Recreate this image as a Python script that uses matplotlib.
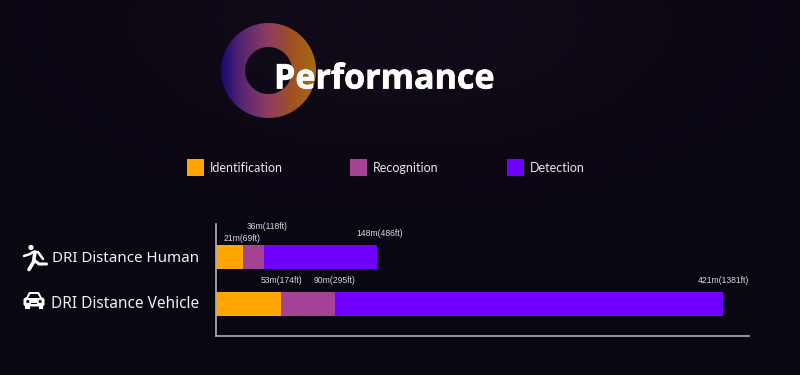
import numpy as np
import matplotlib
matplotlib.use("Agg")
import matplotlib.pyplot as plt
import matplotlib.patheffects as pe
from matplotlib.patches import Circle, Polygon, FancyBboxPatch, PathPatch, Rectangle
from matplotlib.path import Path

categories = ["DRI Distance Human", "DRI Distance Vehicle"]
# bars are not to scale in the original, so these are the drawn lengths
identification = [27, 65]
recognition = [48, 119]
detection = [161, 507]
id_labels = ["21m(69ft)", "53m(174ft)"]
rec_labels = ["36m(118ft)", "90m(295ft)"]
det_labels = ["148m(486ft)", "421m(1381ft)"]
legend_names = ["Identification", "Recognition", "Detection"]
colors = ["#ffa500", "#a64294", "#6f00ff"]

W, H = 800, 375
fig = plt.figure(figsize=(8, 3.75), dpi=100)

# background, whole figure in pixel coordinates
bg = fig.add_axes([0, 0, 1, 1])
bg.axis("off")
edge = np.array([0x0a, 0x06, 0x12])
glow = np.array([0x14, 0x0b, 0x19])
gx, gy = np.meshgrid(np.linspace(0, W, 200), np.linspace(0, H, 100))
dist = np.clip(np.hypot((gx - 400) / 450, (gy - 20) / 210), 0, 1)[:, :, None]
bg.imshow((glow * (1 - dist) + edge * dist).astype(np.uint8), extent=[0, W, H, 0],
          aspect="auto", interpolation="bilinear")

# ring with gradient
cx, cy, r_out, r_in = 268.5, 70.5, 47.5, 23.5
stops = np.array([[0x1a, 0x0a, 0x70], [0x5e, 0x2a, 0x72], [0x8e, 0x3c, 0x62],
                  [0xa0, 0x52, 0x22], [0xa8, 0x6c, 0x10]])
xs = np.linspace(0, 1, 256)
ring_img = np.stack([np.interp(xs, np.linspace(0, 1, 5), stops[:, i]) for i in range(3)], axis=1)
ring_img = ring_img[None, :, :].astype(np.uint8)
im = bg.imshow(ring_img, extent=[cx - r_out, cx + r_out, cy + r_out, cy - r_out],
               aspect="auto", interpolation="bilinear")
t = np.linspace(0, 2 * np.pi, 200)
verts = np.concatenate([
    np.c_[cx + r_out * np.cos(t), cy + r_out * np.sin(t)],
    np.c_[cx + r_in * np.cos(t[::-1]), cy + r_in * np.sin(t[::-1])],
])
codes = [Path.MOVETO] + [Path.LINETO] * 199 + [Path.MOVETO] + [Path.LINETO] * 199
ring = PathPatch(Path(verts, codes), transform=bg.transData, fc="none", ec="none")
bg.add_patch(ring)
im.set_clip_path(ring)
bg.set_xlim(0, W)
bg.set_ylim(H, 0)

bg.text(274, 79.5, "Performance", color="white", fontsize=24.5, fontweight="bold",
        family="Open Sans", va="center", ha="left",
        path_effects=[pe.withStroke(linewidth=0.5, foreground="white")])

# legend
for x, name, c in zip([187, 350, 507], legend_names, colors):
    bg.add_patch(Rectangle((x, 158.5), 17, 17, fc=c, ec="none"))
    bg.text(x + 23, 167.5, name, color="#e6e6e6", fontsize=9, family="Lato",
            va="center", ha="left")

# category names
bg.text(52, 258.5, categories[0], color="#f2f2f2", fontsize=10.85, family="Noto Sans",
        va="center", ha="left")
bg.text(51, 304, categories[1], color="#f2f2f2", fontsize=11.1, family="Noto Sans",
        va="center", ha="left")

# running man icon
bg.add_patch(Circle((31, 247.5), 2.6, fc="white", ec="none"))
for pts, lw in [([(24, 256), (30, 254), (33, 252), (38, 252), (43, 259)], 1.8),
                ([(35, 252), (33.5, 262), (29, 269.5)], 2.6),
                ([(34, 260), (39, 264), (46.5, 264)], 2.2)]:
    arr = np.array(pts)
    bg.plot(arr[:, 0], arr[:, 1], color="white", lw=lw, solid_capstyle="round",
            solid_joinstyle="round")

# car icon
dark = "#0a0612"
bg.add_patch(FancyBboxPatch((23.5, 297.5), 21, 9, boxstyle="round,pad=0,rounding_size=2.5",
                            fc="white", ec="none"))
bg.add_patch(Polygon([(25.5, 299), (29, 292), (39, 292), (42.5, 299)], closed=True,
                     fc="white", ec="none"))
bg.add_patch(Polygon([(28, 298), (30.5, 294), (37.5, 294), (40, 298)], closed=True,
                     fc=dark, ec="none"))
bg.add_patch(Rectangle((25, 305), 4.5, 4, fc="white", ec="none"))
bg.add_patch(Rectangle((38.5, 305), 4.5, 4, fc="white", ec="none"))
bg.add_patch(Circle((27.8, 301.5), 1.6, fc=dark, ec="none"))
bg.add_patch(Circle((40.2, 301.5), 1.6, fc=dark, ec="none"))
bg.add_patch(Rectangle((31, 302.5), 6, 1.3, fc=dark, ec="none"))
bg.set_xlim(0, W)
bg.set_ylim(H, 0)

# the chart itself
ax = fig.add_axes([216 / W, 1 - 336 / H, (749 - 216) / W, (336 - 224) / H])
ax.patch.set_alpha(0)
y = np.arange(len(categories))
ident = np.array(identification)
rec = np.array(recognition)
det = np.array(detection)
ax.barh(y, ident, height=24 / 47, color=colors[0])
ax.barh(y, rec - ident, left=ident, height=24 / 47, color=colors[1])
ax.barh(y, det - rec, left=rec, height=24 / 47, color=colors[2])
ax.set_xlim(0, 533)
ax.set_ylim(1 + 32 / 47, -33 / 47)
ax.set_xticks([])
ax.set_yticks([])
for s in ["top", "right"]:
    ax.spines[s].set_visible(False)
for s in ["left", "bottom"]:
    ax.spines[s].set_color("#b0b0b0")
    ax.spines[s].set_linewidth(1.2)

lab = dict(color="#d9d9d9", fontsize=6.2, family="Liberation Sans", ha="center", va="center")
# offsets between label and bar end vary in the original
ax.text(ident[0] - 0.5, -0.40, id_labels[0], **lab)
ax.text(rec[0] + 3, -0.65, rec_labels[0], **lab)
ax.text(det[0] + 3, -0.51, det_labels[0], **lab)
ax.text(ident[1] + 0.5, 0.49, id_labels[1], **lab)
ax.text(rec[1], 0.49, rec_labels[1], **lab)
ax.text(det[1], 0.49, det_labels[1], **lab)

fig.savefig("out.png", dpi=100)
